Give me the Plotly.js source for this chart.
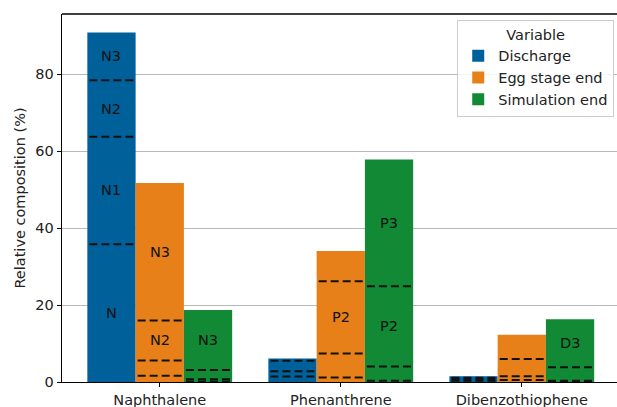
<!DOCTYPE html>
<html><head><meta charset="utf-8">
<script src="https://cdn.plot.ly/plotly-3.0.1.min.js"></script>
<style>html,body{margin:0;padding:0;background:#fff}</style>
</head><body><div id="chart" style="width:617px;height:407px"></div>
<script>
const compounds = ["Naphthalene", "Phenanthrene", "Dibenzothiophene"];
const variables = ["Discharge", "Egg stage end", "Simulation end"];
const segmentNames = [["N", "N1", "N2", "N3"], ["P", "P1", "P2", "P3"], ["D", "D1", "D2", "D3"]];
// segment values (%) per compound, bottom to top
const discharge     = [[35.8, 27.9, 14.7, 12.4], [1.4, 1.4, 2.7, 0.6], [0.3, 0.4, 0.4, 0.4]];
const eggStageEnd   = [[1.6, 4.0, 10.4, 35.7], [1.2, 6.2, 18.8, 7.8], [0.5, 1.0, 4.5, 6.3]];
const simulationEnd = [[0.1, 0.6, 2.4, 15.6], [0.3, 3.7, 20.9, 32.9], [0.1, 0.2, 3.5, 12.5]];
const seriesValues = [discharge, eggStageEnd, simulationEnd];
const colors = ["#00609a", "#e8801a", "#128a35"];
const labelThreshold = 10;

const nVar = variables.length;
const groupWidth = 0.8;
const bw = groupWidth / nVar;
const FONT = "DejaVu Sans";
const FS = 14.5;

const traces = variables.map((v, j) => ({
  type: "bar",
  name: v,
  x: compounds.map((c, i) => i),
  y: seriesValues[j].map(segs => segs.reduce((a, b) => a + b, 0)),
  marker: {color: colors[j], line: {width: 0}},
  hoverinfo: "y+name"
}));

const shapes = [];
const annotations = [];
compounds.forEach((c, i) => {
  variables.forEach((v, j) => {
    const cx = i + (j - (nVar - 1) / 2) * bw;
    const segs = seriesValues[j][i];
    let cum = 0;
    segs.forEach((s, k) => {
      const lower = cum;
      cum += s;
      if (k < segs.length - 1) {
        shapes.push({type: "line", xref: "x", yref: "y", x0: cx - 0.122, x1: cx + 0.122, y0: cum, y1: cum,
          line: {color: "#111", width: 2, dash: "8px,4px"}});
      }
      if (s >= labelThreshold) {
        annotations.push({xref: "x", yref: "y", x: cx, y: lower + s / 2, text: segmentNames[i][k],
          showarrow: false, font: {family: FONT, size: FS, color: "#111"}});
      }
    });
  });
});
// top spine
shapes.push({type: "line", xref: "paper", yref: "paper", x0: 0, x1: 1, y0: 1, y1: 1, line: {color: "#000", width: 1.3}, layer: "above"});

const layout = {
  width: 617, height: 407,
  margin: {l: 62, r: 0, t: 14, b: 25, pad: 0},
  paper_bgcolor: "#fff", plot_bgcolor: "#fff",
  font: {family: FONT, size: FS, color: "#222"},
  barmode: "group", bargap: 0.2, bargroupgap: 0,
  xaxis: {
    range: [-0.54, 2.526], tickmode: "array", tickvals: compounds.map((c, i) => i), ticktext: compounds,
    showgrid: false, zeroline: false, showline: true, linecolor: "#000", linewidth: 1.3,
    ticks: "outside", ticklen: 4, tickcolor: "#000", automargin: false,
    tickfont: {family: FONT, size: FS, color: "#222"}
  },
  yaxis: {
    range: [0, 95.6], tickvals: [0, 20, 40, 60, 80],
    showgrid: true, gridcolor: "#b8b8b8", gridwidth: 1, zeroline: false,
    showline: true, linecolor: "#000", linewidth: 1.3,
    ticks: "outside", ticklen: 4, tickcolor: "#000", automargin: false,
    tickfont: {family: FONT, size: FS, color: "#222"},
    title: {text: "Relative composition (%)", font: {family: FONT, size: FS, color: "#222"}, standoff: 6}
  },
  legend: {
    x: 0.995, xanchor: "right", y: 0.984, yanchor: "top",
    bgcolor: "rgba(255,255,255,0.85)", bordercolor: "#cccccc", borderwidth: 1,
    title: {text: "Variable", side: "top center", font: {family: FONT, size: FS, color: "#222"}},
    font: {family: FONT, size: FS, color: "#222"}, tracegroupgap: 2
  },
  showlegend: true,
  shapes: shapes,
  annotations: annotations
};
Plotly.newPlot("chart", traces, layout, {displayModeBar: false, staticPlot: true});
</script></body></html>
